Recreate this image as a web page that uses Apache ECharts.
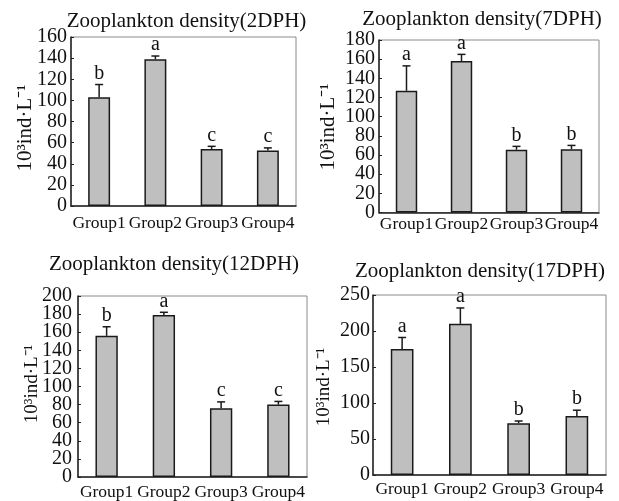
<!DOCTYPE html>
<html>
<head>
<meta charset="utf-8">
<script src="https://cdn.jsdelivr.net/npm/echarts@6/dist/echarts.min.js"></script>
<style>html,body{margin:0;padding:0;background:#fff}#c{width:619px;height:501px}</style>
</head>
<body>
<div id="c"></div>
<script>
var categories = ['Group1', 'Group2', 'Group3', 'Group4'];
var titles = ['Zooplankton density(2DPH)', 'Zooplankton density(7DPH)', 'Zooplankton density(12DPH)', 'Zooplankton density(17DPH)'];
var yName = '10³ind·L⁻¹';
var yMax = [160, 180, 200, 250];
var yStep = [20, 20, 20, 50];
var values2 = [103, 139, 54, 52.5];
var errors2 = [12, 3, 2.5, 2.5];
var letters2 = ['b', 'a', 'c', 'c'];
var values7 = [127, 158, 65.5, 66];
var errors7 = [26, 7, 3.5, 4];
var letters7 = ['a', 'a', 'b', 'b'];
var values12 = [156, 179, 76, 80];
var errors12 = [10, 3, 7, 3.5];
var letters12 = ['b', 'a', 'c', 'c'];
var values17 = [175, 210, 72, 82];
var errors17 = [16, 22, 3, 8];
var letters17 = ['a', 'a', 'b', 'b'];

var panels = [
  {v: values2, e: errors2, l: letters2},
  {v: values7, e: errors7, l: letters7},
  {v: values12, e: errors12, l: letters12},
  {v: values17, e: errors17, l: letters17}
];

var FONT = '"Liberation Serif", "Times New Roman", serif';
var grids = [
  {left: 71, top: 37, width: 225, height: 169},
  {left: 379, top: 40, width: 220, height: 172.5},
  {left: 78, top: 296, width: 229, height: 182.5},
  {left: 373, top: 295, width: 233, height: 180}
];
var labelMargins = [8, 3, 6, 5];
var yLabelMargins = [4, 4, 6, 3];
var titlePos = [[186.5, 21], [482, 19], [174, 264], [480, 271]];
var namePos = [[25, 128], [328, 127], [32, 384], [324, 387]];
var nameSize = [21, 21, 19, 19];

var option = {
  animation: false,
  backgroundColor: '#fff',
  grid: [], xAxis: [], yAxis: [], series: [], graphic: []
};

panels.forEach(function (p, k) {
  var g = grids[k];
  var step = yStep[k];
  option.grid.push({left: g.left, top: g.top, width: g.width, height: g.height, show: true,
    borderColor: '#8a8a8a', borderWidth: 1, backgroundColor: 'transparent'});
  option.xAxis.push({
    type: 'category', gridIndex: k, data: categories,
    axisLine: {lineStyle: {color: '#222', width: 1.5}},
    axisTick: {inside: true, length: 4, lineStyle: {color: '#222'}},
    axisLabel: {color: '#111', fontFamily: FONT, fontSize: 17.5, margin: labelMargins[k],
      interval: 0, hideOverlap: false},
    splitLine: {show: false}
  });
  // main axis: even-step labels
  option.yAxis.push({
    type: 'value', gridIndex: k, min: 0, max: yMax[k], interval: step, position: 'left',
    axisLine: {show: true, lineStyle: {color: '#222', width: 1.5}},
    axisTick: {show: true, inside: true, length: 3, lineStyle: {color: '#222'}},
    axisLabel: {color: '#111', fontFamily: FONT, fontSize: 20, margin: yLabelMargins[k],
      showMinLabel: true, showMaxLabel: true, hideOverlap: false,
      formatter: function (v) { return (Math.round(v / step) % 2 === 0) ? String(v) : ''; }},
    splitLine: {show: false}
  });
  // overlay axis: odd-step labels (same scale, same position)
  option.yAxis.push({
    type: 'value', gridIndex: k, min: 0, max: yMax[k], interval: step, position: 'left', offset: 0,
    axisLine: {show: false}, axisTick: {show: false},
    axisLabel: {color: '#111', fontFamily: FONT, fontSize: 20, margin: yLabelMargins[k],
      showMinLabel: true, showMaxLabel: true, hideOverlap: false,
      formatter: function (v) { return (Math.round(v / step) % 2 === 1) ? String(v) : ''; }},
    splitLine: {show: false}
  });
  option.series.push({
    type: 'bar', xAxisIndex: k, yAxisIndex: 2 * k, data: p.v, barWidth: '39%',
    itemStyle: {color: '#bfbfbf', borderColor: '#1a1a1a', borderWidth: 1.5},
    z: 2
  });
  var errData = p.v.map(function (v, i) { return [i, v, p.e[i]]; });
  option.series.push({
    type: 'custom', xAxisIndex: k, yAxisIndex: 2 * k, data: errData, z: 3,
    encode: {x: 0, y: 1},
    renderItem: (function (letters) {
      return function (params, api) {
        var i = api.value(0), v = api.value(1), e = api.value(2);
        var base = api.coord([i, v]);
        var top = api.coord([i, v + e]);
        var cw = 4;
        return {
          type: 'group',
          children: [
            {type: 'line', shape: {x1: base[0], y1: base[1], x2: top[0], y2: top[1]},
              style: {stroke: '#1a1a1a', lineWidth: 1.5}},
            {type: 'line', shape: {x1: top[0] - cw, y1: top[1], x2: top[0] + cw, y2: top[1]},
              style: {stroke: '#1a1a1a', lineWidth: 1.5}},
            {type: 'text', x: top[0], y: top[1] - 1,
              style: {text: letters[params.dataIndex], fill: '#111', fontFamily: FONT, fontSize: 20,
                align: 'center', verticalAlign: 'bottom'}}
          ]
        };
      };
    })(p.l)
  });
  option.graphic.push({
    type: 'text', x: titlePos[k][0], y: titlePos[k][1],
    style: {text: titles[k], fill: '#111', fontFamily: FONT, fontSize: 21, align: 'center', verticalAlign: 'middle'}
  });
  option.graphic.push({
    type: 'text', x: namePos[k][0], y: namePos[k][1], rotation: Math.PI / 2,
    style: {text: yName, fill: '#111', fontFamily: FONT, fontSize: nameSize[k], align: 'center', verticalAlign: 'middle'}
  });
});

var chart = echarts.init(document.getElementById('c'), null, {renderer: 'canvas'});
chart.setOption(option);
</script>
</body>
</html>
